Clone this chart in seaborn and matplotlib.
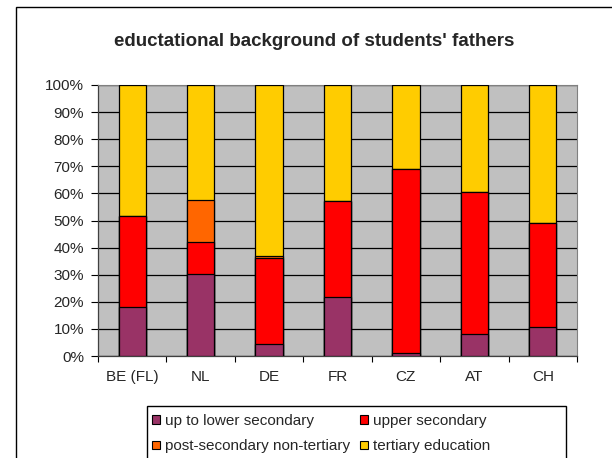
import numpy as np
import pandas as pd
import seaborn as sns
import matplotlib.pyplot as plt
from matplotlib.patches import Rectangle, Patch

countries = ['BE (FL)', 'NL', 'DE', 'FR', 'CZ', 'AT', 'CH']
lower_secondary = [18.0, 30.1, 4.6, 21.8, 1.1, 8.3, 10.8]
upper_secondary = [33.8, 12.0, 31.7, 35.3, 67.9, 52.4, 38.4]
post_secondary = [0.0, 15.5, 0.5, 0.0, 0.0, 0.0, 0.0]
tertiary = [48.2, 42.4, 63.2, 42.9, 31.0, 39.3, 50.8]

series_names = ['up to lower secondary', 'upper secondary',
                'post-secondary non-tertiary', 'tertiary education']
colors = ['#993366', '#FF0000', '#FF6600', '#FFCC00']

sns.set_style('white')
plt.rcParams['font.family'] = ['Liberation Sans', 'DejaVu Sans']

# cumulative heights so the bars can be overlaid from the top down
layers = np.array([lower_secondary, upper_secondary, post_secondary, tertiary])
cum = np.cumsum(layers, axis=0)
df = pd.DataFrame({'country': countries})
for name, c in zip(series_names, cum):
    df[name] = c

fig = plt.figure(figsize=(6.12, 4.58), dpi=100)
ax = fig.add_axes([98 / 612, 1 - 356 / 458, 479 / 612, 271 / 458])
ax.set_facecolor('#C0C0C0')

for name, col in reversed(list(zip(series_names, colors))):
    sns.barplot(data=df, x='country', y=name, color=col, width=0.4,
                edgecolor='black', linewidth=0.9, saturation=1, ax=ax, zorder=3)

ax.set_ylim(0, 100)
ax.set_xlim(-0.5, len(countries) - 0.5)
ax.set_yticks(np.arange(0, 101, 10))
ax.set_yticklabels([f'{v}%' for v in range(0, 101, 10)])
ax.yaxis.grid(True, color='black', linewidth=0.9, zorder=0)
ax.set_axisbelow(True)
ax.set_xlabel('')
ax.set_ylabel('')

ax.tick_params(axis='y', which='major', length=5, width=0.8, color='black',
               left=True, direction='out', labelsize=11, pad=5)
ax.tick_params(axis='x', which='major', length=0, labelsize=11, pad=10)
ax.set_xticks(np.arange(-0.5, len(countries), 1), minor=True)
ax.tick_params(axis='x', which='minor', length=4, width=0.8, color='black',
               bottom=True, direction='out')

for side in ['top', 'right']:
    ax.spines[side].set_color('#808080')
    ax.spines[side].set_linewidth(0.8)
for side in ['left', 'bottom']:
    ax.spines[side].set_color('#404040')
    ax.spines[side].set_linewidth(0.9)

fig.text(314 / 612, 1 - 42 / 458, "eductational background of students' fathers",
         ha='center', va='center', fontsize=13.5, fontweight='bold')

# outer chart frame (cropped on the right and bottom)
fig.patches.append(Rectangle((16 / 612, -0.1), 1.2, 1.1 - 7 / 458,
                             transform=fig.transFigure, fill=False,
                             edgecolor='black', linewidth=1.0))

# legend box
fig.patches.append(Rectangle((147 / 612, -0.1), (566 - 147) / 612, 0.1 + 1 - 406 / 458,
                             transform=fig.transFigure, fill=False,
                             edgecolor='black', linewidth=1.0))
order = [0, 2, 1, 3]  # legend is filled row-wise in the reference
handles = [Patch(facecolor=colors[i], edgecolor='black', linewidth=0.8) for i in order]
labels = [series_names[i] for i in order]
fig.legend(handles, labels, ncol=2, frameon=False, fontsize=11,
           loc='upper left', bbox_to_anchor=(152 / 612, 1 - 414 / 458),
           handlelength=0.52, handleheight=0.52, handletextpad=0.35,
           columnspacing=0.6, labelspacing=0.75, borderaxespad=0, borderpad=0)

fig.savefig('out.png', dpi=100)
